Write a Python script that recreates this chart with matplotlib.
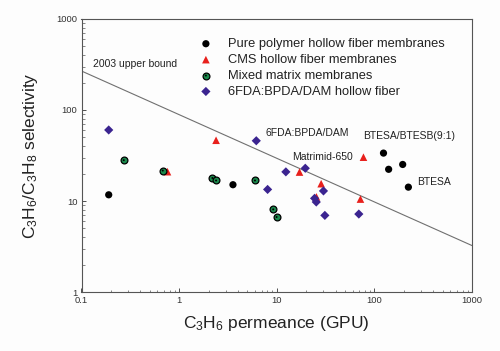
import matplotlib
matplotlib.use("Agg")
import matplotlib.pyplot as plt
from matplotlib.legend_handler import HandlerTuple
import numpy as np

plt.rcParams['font.family'] = ['Liberation Sans', 'DejaVu Sans']
plt.rcParams['mathtext.fontset'] = 'custom'
plt.rcParams['mathtext.rm'] = 'Liberation Sans'
plt.rcParams['mathtext.it'] = 'Liberation Sans'

# Data
pure_x = [0.19, 3.56, 124, 140, 195, 223]
pure_y = [11.7, 15.1, 33.6, 22.3, 25.2, 14.2]

cms_x = [0.76, 2.39, 17.1, 28.5, 25.5, 77.3, 72]
cms_y = [21.0, 46.5, 20.8, 15.5, 11.1, 30.3, 10.5]

mmm_x = [0.271, 0.68, 2.19, 2.39, 5.98, 9.2, 9.96]
mmm_y = [28.1, 21.6, 17.9, 16.8, 16.8, 8.09, 6.67]

fda_x = [0.19, 6.17, 8.06, 12.4, 19.6, 24.4, 25.4, 30.1, 31.1, 69.3]
fda_y = [60.3, 45.9, 13.4, 20.9, 22.9, 10.7, 9.75, 12.9, 6.95, 7.19]

bound_x = [0.1, 1000]
bound_y = [268, 3.24]

legend_labels = ["Pure polymer hollow fiber membranes",
                 "CMS hollow fiber membranes",
                 "Mixed matrix membranes",
                 "6FDA:BPDA/DAM hollow fiber"]

fig = plt.figure(figsize=(5.0, 3.51), dpi=100)
fig.patch.set_facecolor('#fdfdfd')
ax = fig.add_axes([0.163, 0.168, 0.781, 0.778])
ax.set_facecolor('#fdfdfd')

ax.plot(bound_x, bound_y, color='#707070', lw=0.8, zorder=1)

h1 = ax.scatter(pure_x, pure_y, s=27, marker='o', color='black', edgecolors='none', zorder=3)
h2 = ax.scatter(cms_x, cms_y, s=30, marker='^', color='#e8201c', edgecolors='none', zorder=3)
h3a = ax.scatter(mmm_x, mmm_y, s=24, marker='o', facecolor='#1a8a4c', edgecolors='black', linewidths=0.9, zorder=3)
h3b = ax.scatter(mmm_x, mmm_y, s=2, marker='o', color='black', edgecolors='none', zorder=4)
h4 = ax.scatter(fda_x, fda_y, s=22, marker='D', color='#3b2490', edgecolors='none', zorder=3)

ax.set_xscale('log')
ax.set_yscale('log')
ax.set_xlim(0.1, 1000)
ax.set_ylim(1, 1000)

ax.set_xticks([0.1, 1, 10, 100, 1000])
ax.set_xticklabels(['0.1', '1', '10', '100', '1000'])
ax.set_yticks([1, 10, 100, 1000])
ax.set_yticklabels(['1', '10', '100', '1000'])
ax.tick_params(axis='both', which='major', direction='in', length=3, width=0.6,
               labelsize=6.8, colors='#333333', pad=3)
ax.tick_params(axis='both', which='minor', direction='in', length=1.8, width=0.5, colors='#555555')

for sp in ax.spines.values():
    sp.set_color('#555555')
    sp.set_linewidth(0.8)

ax.set_xlabel('C$_3$H$_6$ permeance (GPU)', fontsize=12.5, color='#222222', labelpad=6)
ax.set_ylabel('C$_3$H$_6$/C$_3$H$_8$ selectivity', fontsize=12.5, color='#222222', labelpad=12)

tk = dict(fontsize=7.5, color='#222222')
ax.text(0.13, 320, '2003 upper bound', va='center', ha='left', **tk)
ax.text(7.6, 55.7, '6FDA:BPDA/DAM', va='center', ha='left', **tk)
ax.text(76, 52.1, 'BTESA/BTESB(9:1)', va='center', ha='left', **tk)
ax.text(60, 30.8, 'Matrimid-650', va='center', ha='right', **tk)
ax.text(272, 16.3, 'BTESA', va='center', ha='left', **tk)

leg = ax.legend([h1, h2, (h3a, h3b), h4], legend_labels,
                handler_map={tuple: HandlerTuple(ndivide=1)},
                loc='upper left', bbox_to_anchor=(0.302, 0.93), frameon=False,
                fontsize=9.3, handlelength=1.0, handletextpad=1.25, labelspacing=0.3,
                borderpad=0, borderaxespad=0, scatterpoints=1)
for t in leg.get_texts():
    t.set_color('#222222')

fig.savefig('out.png', dpi=100, facecolor=fig.get_facecolor())
